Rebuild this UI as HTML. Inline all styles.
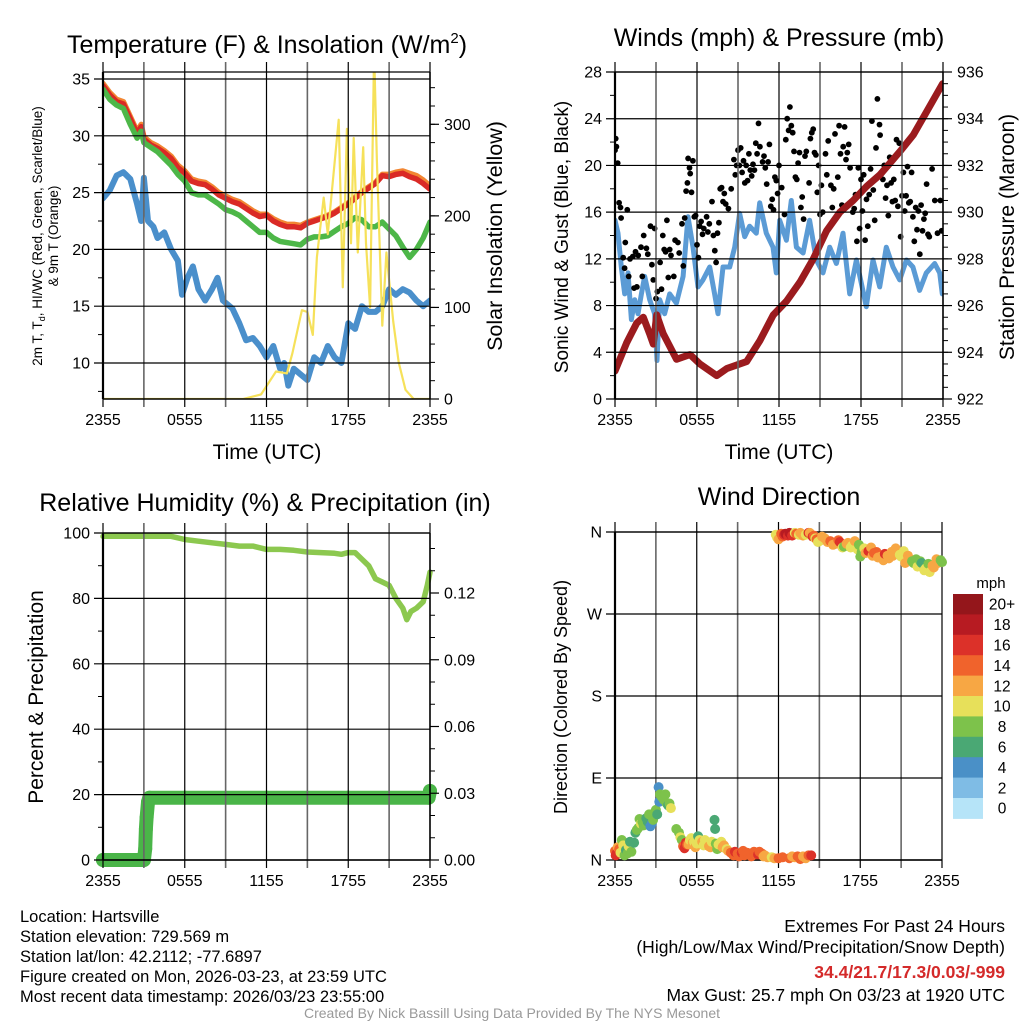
<!DOCTYPE html>
<html><head><meta charset="utf-8"><style>
html,body{margin:0;padding:0;background:#fff;}
svg{display:block;font-family:"Liberation Sans",Arial,sans-serif;}
</style></head><body>
<svg id="fig" width="1024" height="1024" viewBox="0 0 1024 1024" xmlns="http://www.w3.org/2000/svg">
<rect x="0" y="0" width="1024" height="1024" fill="#fff"/>
<defs>
<clipPath id="c1"><rect x="103" y="72" width="327" height="327"/></clipPath>
<clipPath id="c2"><rect x="615" y="72" width="328" height="327"/></clipPath>
<clipPath id="c3"><rect x="94" y="526" width="345" height="343"/></clipPath>
<clipPath id="c4"><rect x="606" y="524" width="344" height="344"/></clipPath>
</defs>
<text x="267" y="53" font-size="25" text-anchor="middle">Temperature (F) &amp; Insolation (W/m<tspan font-size="15" dy="-10">2</tspan><tspan dy="10">)</tspan></text>
<text x="779" y="46" font-size="25" text-anchor="middle">Winds (mph) &amp; Pressure (mb)</text>
<text x="265" y="511" font-size="25" text-anchor="middle">Relative Humidity (%) &amp; Precipitation (in)</text>
<text x="779" y="505" font-size="25" text-anchor="middle">Wind Direction</text>

<text transform="translate(42,236) rotate(-90)" font-size="13.5" text-anchor="middle">2m T, T<tspan font-size="9" dy="3">d</tspan><tspan dy="-3">, HI/WC (Red, Green, Scarlet/Blue)</tspan></text>
<text transform="translate(58,236) rotate(-90)" font-size="13.5" text-anchor="middle">&amp; 9m T (Orange)</text>
<text transform="translate(502,236) rotate(-90)" font-size="21.5" text-anchor="middle">Solar Insolation (Yellow)</text>
<text x="267" y="459" font-size="21" text-anchor="middle">Time (UTC)</text>
<text transform="translate(568,237) rotate(-90)" font-size="19" text-anchor="middle">Sonic Wind &amp; Gust (Blue, Black)</text>
<text transform="translate(1014,237) rotate(-90)" font-size="21" text-anchor="middle">Station Pressure (Maroon)</text>
<text x="779" y="459" font-size="21" text-anchor="middle">Time (UTC)</text>
<text transform="translate(43,697) rotate(-90)" font-size="21" text-anchor="middle">Percent &amp; Precipitation</text>
<text transform="translate(567,697) rotate(-90)" font-size="18" text-anchor="middle">Direction (Colored By Speed)</text>
<text x="991" y="588" font-size="15" text-anchor="middle">mph</text>

<g font-size="16.5">
<text x="20" y="922">Location: Hartsville</text>
<text x="20" y="942">Station elevation: 729.569 m</text>
<text x="20" y="962">Station lat/lon: 42.2112; -77.6897</text>
<text x="20" y="982">Figure created on Mon, 2026-03-23, at 23:59 UTC</text>
<text x="20" y="1002">Most recent data timestamp: 2026/03/23 23:55:00</text>
</g>
<g font-size="17.5" text-anchor="end">
<text x="1005" y="932">Extremes For Past 24 Hours</text>
<text x="1005" y="953">(High/Low/Max Wind/Precipitation/Snow Depth)</text>
<text x="1005" y="978" fill="#d42a2a" font-weight="bold">34.4/21.7/17.3/0.03/-999</text>
<text x="1005" y="1001">Max Gust: 25.7 mph On 03/23 at 1920 UTC</text>
</g>
<text x="512" y="1018" font-size="14" fill="#999" text-anchor="middle">Created By Nick Bassill Using Data Provided By The NYS Mesonet</text>
</svg>
<script>
// ---------- Panel 1 data ----------
const tempTimes = [0,.5,1,1.5,2,2.5,2.8,3,3.5,4,4.5,5,5.5,6,6.5,7,7.5,8,8.5,9,9.5,10,10.5,11,11.5,12,12.5,13,13.5,14,14.5,15,15.5,16,16.5,17,17.5,18,18.5,19,19.5,20,20.5,21,21.5,22,22.5,23,23.5,24];
const tempVals = [34.4,33.6,33.0,32.8,31.5,30.2,30.8,29.7,29.2,28.9,28.5,28.0,27.2,26.7,26.0,25.8,25.7,25.3,24.8,24.5,24.2,24.0,23.6,23.2,22.9,23.0,22.5,22.2,22.0,22.0,21.9,22.3,22.5,22.7,22.9,23.2,23.6,24.0,24.5,25.0,25.4,25.8,26.5,26.4,26.6,26.7,26.4,26.2,25.8,25.3];
const temp9mVals = [34.6,33.8,33.2,33.0,31.7,30.4,31.0,29.9,29.4,29.1,28.7,28.2,27.4,26.9,26.2,26.0,25.9,25.5,25.0,24.7,24.4,24.2,23.8,23.4,23.1,23.1,22.7,22.4,22.2,22.2,22.1,22.4,22.6,22.8,23.0,23.3,23.7,24.1,24.6,25.1,25.5,25.9,26.6,26.6,26.8,26.9,26.7,26.5,26.1,25.6];
const hiwcVals = [34.1,33.2,32.7,32.4,31.0,29.8,30.4,29.4,29.0,28.6,28.0,27.4,26.6,26.0,25.0,24.8,24.8,24.4,24.0,23.5,23.3,23.0,22.5,22.0,21.5,21.5,21.0,20.7,20.6,20.5,20.4,20.9,21.1,21.1,21.2,21.6,22.0,22.3,22.8,22.6,22.0,22.0,22.4,21.8,21.2,20.2,19.3,20.0,21.0,22.4];
const dewTimes = [0,.5,1,1.5,2,2.5,2.8,3,3.3,3.7,4,4.5,5,5.5,5.8,6.2,6.6,7,7.5,8,8.4,8.8,9.5,10,10.5,11,11.5,12,12.5,13,13.3,13.6,14,14.5,15,15.5,16,16.5,17,17.5,18,18.5,19,19.5,20,20.5,21,21.5,22,22.5,23,23.5,24];
const dewVals = [24.5,25.2,26.5,26.8,26.2,24.0,22.5,26.3,22.5,22.0,21.0,21.5,20.0,19.0,16.0,17.5,18.5,16.5,15.5,16.5,17.5,15.5,14.8,13.5,12.0,12.2,11.5,10.5,11.5,9.5,10.0,8.0,9.5,9.0,8.5,10.5,10.0,11.5,10.5,10.0,13.5,13.0,15.0,14.5,14.5,15.0,16.5,16.0,16.5,16.2,15.5,15.0,15.5];
const solarTimes = [0,10.3,11.6,12.7,13.5,13.9,14.6,15.0,15.4,15.7,16.2,16.5,17.3,17.6,17.9,18.2,18.4,18.7,19.1,19.3,19.6,19.9,20.1,20.5,20.8,21.3,21.7,22.2,22.8,24];
const solarVals = [0,0,5,30,28,50,97,95,70,155,220,180,305,122,295,170,285,160,275,170,100,380,260,80,160,85,40,10,0,0];
// ---------- Panel 2 data ----------
const windTimes = [0,.22,.46,.71,.95,1.2,1.44,1.68,1.93,2.17,2.54,2.9,3.07,3.27,3.63,4.0,4.49,4.98,5.34,5.71,6.07,6.44,6.93,7.29,7.54,7.9,8.39,8.76,9.12,9.49,9.85,10.34,10.59,11.07,11.56,11.8,12.05,12.54,12.9,13.27,13.76,14.24,14.73,15.22,15.71,16.2,16.68,17.17,17.66,18.39,18.88,19.37,19.85,20.34,20.83,21.32,21.8,22.29,22.78,23.39,23.76,23.95];
const windVals = [15.3,14.2,11.3,9.0,10.8,6.8,8.5,7.3,9.0,10.5,8.5,7.3,3.3,8.5,7.3,9.0,8.2,10.5,15.6,13.0,9.6,10.2,11.3,9.0,7.3,11.3,11.3,13.0,15.9,13.9,14.8,14.2,16.8,14.2,13.0,10.8,15.3,13.6,17.0,13.0,12.5,15.3,11.9,10.8,13.0,11.6,14.2,9.0,11.9,7.9,11.9,9.6,13.0,11.3,10.2,11.9,11.3,9.3,10.8,11.6,10.8,9.0];
const presTimes = [0,.85,1.59,2.07,2.56,2.8,3.05,3.53,4.5,5.49,6.22,7.44,8.17,9.63,10.6,11.58,12.56,13.53,14.51,15.48,16.46,17.43,18.41,19.38,20.85,21.82,22.8,23.97];
const presVals = [923.2,924.4,925.25,925.5,924.75,924.35,925.6,924.8,923.7,923.9,923.5,923.0,923.3,923.6,924.5,925.6,926.2,927.0,928.0,929.2,930.0,930.5,931.1,931.6,932.6,933.3,934.3,935.5];
const gustPoints = [[0,21.3],[0.05,22.3],[0.1,21.6],[0.2,20.2],[0.3,16.8],[0.4,16.4],[0.45,15.5],[0.6,12.1],[0.7,11.2],[0.75,13.4],[0.9,16.2],[1.0,10.5],[1.1,12.0],[1.3,12.2],[1.4,9.5],[1.5,12.6],[1.6,9.6],[1.7,12.3],[1.9,13.0],[2.0,10.5],[2.1,14.0],[2.3,12.9],[2.4,12.4],[2.6,14.8],[2.7,11.5],[2.8,10.2],[2.9,14.6],[3.0,8.6],[3.1,9.2],[3.3,11.7],[3.4,9.4],[3.5,14.0],[3.6,12.8],[3.7,12.6],[3.8,15.3],[3.9,10.4],[4.0,12.8],[4.1,12.3],[4.3,10.5],[4.4,13.6],[4.6,13.4],[4.7,12.5],[4.9,15.0],[5.0,11.4],[5.1,15.5],[5.2,17.8],[5.3,18.5],[5.35,20.6],[5.45,19.8],[5.5,19.3],[5.6,17.7],[5.7,20.4],[5.8,15.6],[5.9,15.7],[6.0,13.2],[6.1,12.1],[6.2,14.8],[6.3,15.2],[6.4,14.1],[6.5,14.6],[6.7,15.6],[6.8,14.3],[6.9,15.0],[7.1,16.9],[7.2,14.0],[7.3,12.7],[7.4,11.7],[7.5,14.2],[7.6,15.1],[7.7,18.0],[7.8,18.1],[7.9,16.9],[8.0,17.6],[8.1,16.7],[8.3,16.3],[8.5,18.0],[8.7,20.5],[8.8,19.2],[8.9,20.0],[9.0,21.3],[9.1,20.0],[9.2,21.5],[9.3,19.4],[9.4,20.4],[9.5,18.5],[9.6,20.0],[9.7,18.7],[9.8,21.0],[9.9,19.6],[10.0,19.1],[10.1,20.1],[10.2,19.6],[10.3,21.9],[10.4,21.0],[10.5,23.6],[10.6,21.6],[10.8,20.3],[10.9,20.8],[11.0,19.8],[11.1,18.4],[11.2,20.3],[11.3,21.8],[11.4,16.5],[11.5,17.1],[11.6,16.2],[11.7,19.0],[11.8,18.7],[11.9,17.6],[12.0,20.0],[12.2,18.1],[12.4,15.8],[12.5,22.2],[12.6,24.0],[12.7,23.0],[12.8,25.0],[12.9,23.4],[13.0,22.8],[13.1,21.2],[13.2,19.0],[13.3,18.8],[13.4,20.2],[13.5,21.1],[13.6,16.4],[13.7,17.3],[13.8,15.4],[13.9,20.8],[14.0,21.2],[14.2,18.5],[14.3,22.3],[14.4,22.8],[14.5,23.1],[14.6,21.1],[14.7,20.9],[14.8,17.7],[14.9,20.0],[15.0,15.8],[15.1,18.3],[15.2,16.0],[15.4,21.0],[15.5,19.2],[15.6,22.1],[15.8,18.3],[15.9,16.4],[16.0,18.0],[16.1,22.7],[16.3,19.0],[16.4,23.4],[16.5,21.0],[16.6,16.6],[16.7,21.6],[16.8,23.3],[16.9,20.5],[17.0,21.1],[17.1,21.8],[17.2,19.8],[17.4,16.0],[17.5,16.3],[17.6,17.5],[17.7,13.5],[17.8,19.8],[17.9,14.6],[18.0,18.8],[18.1,16.1],[18.2,19.2],[18.3,13.6],[18.4,17.1],[18.5,14.8],[18.6,17.5],[18.7,19.7],[18.8,23.8],[18.9,17.9],[19.0,15.3],[19.1,21.5],[19.2,25.7],[19.35,23.5],[19.4,22.6],[19.5,19.3],[19.6,18.8],[19.7,20.0],[19.8,17.2],[19.9,18.3],[20.0,15.7],[20.1,20.7],[20.2,18.5],[20.3,16.9],[20.4,18.8],[20.5,17.0],[20.6,22.2],[20.7,16.5],[20.8,21.9],[20.9,13.9],[21.0,17.4],[21.1,19.4],[21.2,16.1],[21.3,17.4],[21.4,19.9],[21.5,16.8],[21.6,16.9],[21.7,19.4],[21.8,15.6],[21.9,13.5],[22.0,16.4],[22.1,14.5],[22.2,16.1],[22.3,12.4],[22.4,16.6],[22.5,14.4],[22.6,15.4],[22.7,15.9],[22.8,18.4],[22.9,14.1],[23.0,13.9],[23.2,19.7],[23.4,17.0],[23.6,14.2],[23.8,17.0],[23.9,14.4]];
// ---------- Panel 3 data ----------
const rhTimes = [0,4,5,6,7,8,9,10,11,12,13,14,15,16,17,17.5,18,18.5,19,19.5,20,20.5,21,21.5,22,22.3,22.6,23,23.5,23.8,24];
const rhVals = [99,99,99,98,97.5,97,96.5,96,96,95,95,94.7,94.2,94,93.8,93.5,94,94,92,90,86,85,84,80,77,73.5,76,77,79,84,88];
const precipTimes = [0,1,2,3,3.1,3.15,3.2,3.3,3.4,6,12,18,23.9,24];
const precipVals = [0,0,0,0,0.005,0.014,0.019,0.026,0.028,0.028,0.028,0.028,0.028,0.031];
// ---------- Panel 4 data: [hour, direction deg, speed mph] ----------
const dirPoints = [[0,10,14],[0.05,5,16],[0.1,7,16],[0.2,14,12],[0.3,12,14],[0.4,8,10],[0.5,22,8],[0.6,16,10],[0.7,5,8],[0.8,11,6],[0.9,7,8],[1.0,15,10],[1.1,20,6],[1.2,9,8],[1.4,19,6],[1.5,30,6],[1.6,33,8],[1.7,35,8],[1.8,45,8],[1.9,40,10],[2.0,42,8],[2.1,38,8],[2.3,46,6],[2.4,42,6],[2.5,50,8],[2.6,37,4],[2.7,40,4],[2.8,44,8],[2.9,52,8],[3.0,55,8],[3.1,50,6],[3.2,80,4],[3.25,64,4],[3.3,72,8],[3.4,70,8],[3.5,68,8],[3.6,66,8],[3.7,72,8],[3.8,62,8],[3.9,60,6],[4.0,62,8],[4.1,57,10],[4.5,34,8],[4.7,30,8],[4.8,25,10],[4.9,22,8],[5.0,15,14],[5.1,13,16],[5.2,19,16],[5.3,17,14],[5.4,17,12],[5.5,22,10],[5.6,24,10],[5.7,19,12],[5.8,20,10],[5.9,14,12],[6.0,18,10],[6.1,26,6],[6.2,22,10],[6.3,18,10],[6.4,20,12],[6.5,16,10],[6.6,22,10],[6.8,19,10],[6.9,15,12],[7.0,14,12],[7.1,20,10],[7.3,44,6],[7.35,34,6],[7.4,18,8],[7.5,12,8],[7.6,17,10],[7.8,20,10],[7.9,14,12],[8.0,16,12],[8.2,12,10],[8.3,10,12],[8.5,8,14],[8.7,5,14],[8.8,9,16],[9.0,7,14],[9.1,4,14],[9.3,8,16],[9.4,10,14],[9.5,5,14],[9.7,8,14],[9.8,6,14],[10.0,4,14],[10.2,9,14],[10.3,6,14],[10.5,6,16],[10.6,9,14],[10.8,7,14],[10.9,4,12],[11.0,5,12],[11.2,3,12],[11.5,3,10],[11.7,2,12],[12.0,2,14],[12.3,3,14],[12.8,2,14],[13.0,4,12],[13.2,3,12],[13.4,4,14],[13.6,1,14],[13.8,4,12],[14.0,2,12],[14.2,5,14],[14.4,5,16],
[11.8,357,10],[11.9,354,10],[12.0,352,12],[12.2,358,14],[12.3,355,14],[12.4,357,16],[12.5,358,18],[12.7,356,16],[12.8,359,18],[12.9,357,18],[13.0,356,16],[13.2,359,10],[13.3,358,14],[13.5,357,10],[13.6,359,12],[13.8,356,12],[14.0,357,10],[14.2,359,16],[14.3,359,12],[14.5,355,16],[14.6,356,14],[14.7,353,10],[14.8,352,14],[14.9,349,10],[15.0,350,10],[15.2,355,12],[15.4,353,12],[15.6,349,12],[15.8,350,14],[16.0,346,12],[16.2,347,12],[16.4,351,14],[16.5,349,16],[16.7,343,10],[16.8,344,8],[17.0,347,12],[17.1,348,12],[17.3,343,10],[17.4,345,10],[17.6,350,12],[17.8,341,10],[17.9,346,8],[18.0,333,8],[18.1,338,8],[18.3,342,10],[18.4,337,12],[18.6,339,16],[18.8,343,12],[18.9,334,12],[19.0,337,14],[19.2,338,14],[19.3,332,12],[19.5,333,12],[19.7,329,12],[19.8,336,16],[20.0,334,12],[20.1,331,12],[20.3,338,12],[20.4,334,12],[20.6,342,12],[20.7,337,12],[20.9,335,10],[21.0,333,10],[21.2,339,10],[21.3,326,12],[21.5,334,12],[21.6,331,12],[21.8,328,8],[21.9,326,8],[22.1,330,8],[22.2,322,10],[22.4,328,8],[22.5,326,6],[22.7,318,10],[22.8,320,10],[23.0,325,8],[23.1,316,10],[23.3,323,12],[23.4,321,12],[23.6,330,12],[23.7,326,12],[23.9,329,8],[24,327,8]];
const speedLabels = ['20+','18','16','14','12','10','8','6','4','2','0'];
const speedColors = ['#94161b','#b71b22','#dc3129','#f0632c','#f7a744','#e7e05a','#7dc24b','#4aa874','#4a90c7','#7fbce5','#b6e4f8'];
const xTickHours = [0,6,12,18,24];
const xTickLabels = ['2355','0555','1155','1755','2355'];

const NS = 'http://www.w3.org/2000/svg';
const svg = document.getElementById('fig');
function mk(tag, parent){const e=document.createElementNS(NS,tag);(parent||svg).appendChild(e);return e;}
function lin(d0,d1,r0,r1){return v=>r0+(v-d0)/(d1-d0)*(r1-r0);}
function ln(g,x1,y1,x2,y2,stroke,w){const e=mk('line',g);e.setAttribute('x1',x1);e.setAttribute('y1',y1);e.setAttribute('x2',x2);e.setAttribute('y2',y2);e.setAttribute('stroke',stroke);e.setAttribute('stroke-width',w);return e;}
function txt(g,x,y,s,anchor,size){const e=mk('text',g);e.setAttribute('x',x);e.setAttribute('y',y);e.setAttribute('text-anchor',anchor);e.setAttribute('font-size',size||15);e.textContent=s;return e;}
function path(g,xs,ys,X,Y,color,w){const e=mk('polyline',g);e.setAttribute('points',xs.map((t,i)=>X(t).toFixed(1)+','+Y(ys[i]).toFixed(1)).join(' '));e.setAttribute('fill','none');e.setAttribute('stroke',color);e.setAttribute('stroke-width',w);e.setAttribute('stroke-linejoin','round');e.setAttribute('stroke-linecap','round');return e;}

function frame(name,x0,x1,y0,y1,X,left,right){
  const g=mk('g');
  
  
  for(let h=0;h<=24;h+=3){const x=X(h);const l=ln(g,x,y0-10,x,y1+8,h%6===0?'#000':'#666',h%6===0?1.2:1.6);}
  xTickHours.forEach((h,i)=>{const t=txt(g,X(h),y1+26,xTickLabels[i],'middle',16);});
  left.vals.forEach((v,i)=>{const y=left.Y(v);const l=ln(g,x0-9,y,x1+(left.ext||0),y,'#000',1.2);const t=txt(g,x0-13,y+5.5,left.labels[i],'end',16);});
  (left.minor||[]).forEach(v=>{const y=left.Y(v);const l=ln(g,x0-5,y,x0,y,'#000',1);});
  if(right){
    right.vals.forEach((v,i)=>{const y=right.Y(v);const l=ln(g,x1,y,x1+9,y,'#000',1.2);const t=txt(g,x1+14,y+5.5,right.labels[i],'start',16);});
    (right.minor||[]).forEach(v=>{const y=right.Y(v);const l=ln(g,x1,y,x1+5,y,'#000',1);});
    const r=ln(g,x1,y0,x1,y1,'#000',1.5);
  }
  const t=ln(g,x0,y0,x1,y0,'#000',1.3);
  const b=ln(g,x0,y1,x1,y1,'#000',1.5);
  const a=ln(g,x0,y0,x0,y1,'#000',2.2);
  return g;
}
function range(a,b,s){const r=[];for(let v=a;v<=b+1e-9;v+=s)r.push(+v.toFixed(4));return r;}

// ---------- Panel 1 ----------
const X1=lin(0,24,103,430), Y1=lin(10,35,363,79), Ys=lin(0,300,399,124.3);
const g1=mk('g'); g1.setAttribute('clip-path','url(#c1)');


let p;
p=path(g1,tempTimes,temp9mVals,X1,Y1,'#f28632',5.5);  
p=path(g1,tempTimes,tempVals,X1,Y1,'#da2a26',5.5);  
p=path(g1,tempTimes,hiwcVals,X1,Y1,'#4db748',5.5);  
p=path(g1,dewTimes,dewVals,X1,Y1,'#4a8fcb',6);  
p=path(g1,solarTimes,solarVals,X1,Ys,'#f6e15a',2.2);  
frame('temperature',103,430,72,399,X1,{vals:[35,30,25,20,15,10],labels:['35','30','25','20','15','10'],Y:Y1,minor:[32.5,27.5,22.5,17.5,12.5,7.5]},{vals:[0,100,200,300],labels:['0','100','200','300'],Y:Ys,minor:range(20,340,20)});

// ---------- Panel 2 ----------
const X2=lin(0,24,615,943), Y2=lin(0,28,399,72), Yp=lin(922,936,399,72);
const g2=mk('g'); g2.setAttribute('clip-path','url(#c2)');


p=path(g2,windTimes,windVals,X2,Y2,'#5b9bd5',5);  
gustPoints.forEach(d=>{const c=mk('circle',g2);c.setAttribute('cx',X2(d[0]).toFixed(1));c.setAttribute('cy',Y2(d[1]).toFixed(1));c.setAttribute('r',2.9);c.setAttribute('fill','#000');

});
p=path(g2,presTimes,presVals,X2,Yp,'#9b1b1e',7);  
frame('winds',615,943,72,399,X2,{vals:[0,4,8,12,16,20,24,28],labels:['0','4','8','12','16','20','24','28'],Y:Y2,minor:range(2,26,4)},{vals:[922,924,926,928,930,932,934,936],labels:['922','924','926','928','930','932','934','936'],Y:Yp,minor:range(922.5,935.5,0.5)});

// ---------- Panel 3 ----------
const X3=lin(0,24,103,430), Y3=lin(0,100,860,533), Yr=lin(0,0.12,860,593);
const g3=mk('g'); g3.setAttribute('clip-path','url(#c3)');


p=path(g3,rhTimes,rhVals,X3,Y3,'#8cc84f',5.5);  
p=path(g3,precipTimes,precipVals,X3,Yr,'#4ab548',14);  
precipTimes.forEach((t,i)=>{const c=mk('circle',g3);c.setAttribute('cx',X3(t).toFixed(1));c.setAttribute('cy',Yr(precipVals[i]).toFixed(1));c.setAttribute('r',7);c.setAttribute('fill','#4ab548');

});
frame('humidity',103,430,533,860,X3,{vals:[0,20,40,60,80,100],labels:['0','20','40','60','80','100'],Y:Y3,minor:range(10,90,20)},{vals:[0,0.03,0.06,0.09,0.12],labels:['0.00','0.03','0.06','0.09','0.12'],Y:Yr,minor:range(0.01,0.14,0.01).filter(v=>Math.round(v*100)%3!==0)});

// ---------- Panel 4 ----------
const X4=lin(0,24,615,942), Y4=lin(0,360,860,532);
frame('wind-direction',615,942,532,860,X4,{vals:[0,90,180,270,360],labels:['N','E','S','W','N'],Y:Y4,ext:0},null);
const g4=mk('g'); g4.setAttribute('clip-path','url(#c4)');


function speedColor(s){const idx=Math.min(10,Math.floor(s/2));return speedColors[10-idx];}
dirPoints.forEach(d=>{const c=mk('circle',g4);c.setAttribute('cx',X4(d[0]).toFixed(1));c.setAttribute('cy',Y4(d[1]).toFixed(1));c.setAttribute('r',5);c.setAttribute('fill',speedColor(d[2]+0.5));

});
// colorbar
const cb=mk('g');


const cbTop=594, cbH=20.4;
speedLabels.forEach((lab,i)=>{const r=mk('rect',cb);r.setAttribute('x',953);r.setAttribute('y',cbTop+i*cbH);r.setAttribute('width',30);r.setAttribute('height',cbH+0.5);r.setAttribute('fill',speedColors[i]);


const t=txt(cb,1002,cbTop+i*cbH+cbH/2+5.5,lab,'middle',15.5);

});
</script>
</body></html>
